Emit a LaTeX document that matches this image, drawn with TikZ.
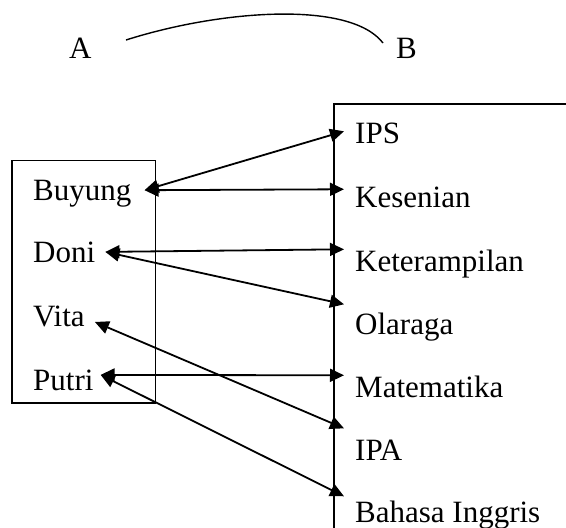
\documentclass[tikz,border=0pt]{standalone}
\usepackage{fontspec}
\setmainfont{Liberation Serif}
\usetikzlibrary{arrows.meta}

\tikzset{
pupil/.style={anchor=base west, inner xsep=10pt, inner ysep=0pt, font=\fontsize{31}{37}\selectfont},
subject/.style={anchor=base west, inner xsep=11pt, inner ysep=0pt, font=\fontsize{31}{37}\selectfont},
setname/.style={anchor=base west, inner sep=0pt, font=\fontsize{31}{37}\selectfont},
pair/.style={line width=1.8pt, >={Triangle[length=14pt,width=13pt]}, <->},
}

\begin{document}
\begin{tikzpicture}[x=1pt,y=-1pt]
\useasboundingbox[fill=white] (0,0) rectangle (566,528);

\node[setname] (a) at (69,58) {A};
\node[setname] (b) at (396,58) {B};
\coordinate (arcA) at (126,40);
\coordinate (arcB) at (383,43);
\draw[line width=1.4pt] (arcA) .. controls (220,10) and (350,0) .. (arcB);

\draw[line width=1.5pt] (12,160.5) rectangle (155.5,403);
\draw[line width=1.5pt] (570,104) -- (334,104) -- (334,532);

\node[pupil] (buyung) at (23,200) {Buyung};
\node[pupil] (doni) at (23,262) {Doni};
\node[pupil] (vita) at (23,326) {Vita};
\node[pupil] (putri) at (23,390) {Putri};

\node[subject] (ips) at (344,143) {IPS};
\node[subject] (kesenian) at (344,207) {Kesenian};
\node[subject] (keterampilan) at (344,271) {Keterampilan};
\node[subject] (olaraga) at (344,334) {Olaraga};
\node[subject] (matematika) at (344,397) {Matematika};
\node[subject] (ipa) at (344,460) {IPA};
\node[subject] (bahasa) at (344,522) {Bahasa Inggris};

\draw[pair] ([xshift=3pt,yshift=3pt]buyung.east) -- ([yshift=-9pt]ips.north west);
\draw[pair] ([xshift=3pt,yshift=3pt]buyung.east) -- ([yshift=-3pt]kesenian.north west);
\draw[pair] (doni.east) -- (keterampilan.north west);
\draw[pair] (doni.east) -- ([yshift=8pt]olaraga.north west);
\draw[pair] ([yshift=-6pt]vita.east) -- ([yshift=11pt]ipa.north west);
\draw[pair] ([xshift=-3pt,yshift=5pt]putri.east) -- (matematika.north west);
\draw[pair] ([xshift=-3pt,yshift=5pt]putri.east) -- ([yshift=4pt]bahasa.north west);
\end{tikzpicture}
\end{document}
